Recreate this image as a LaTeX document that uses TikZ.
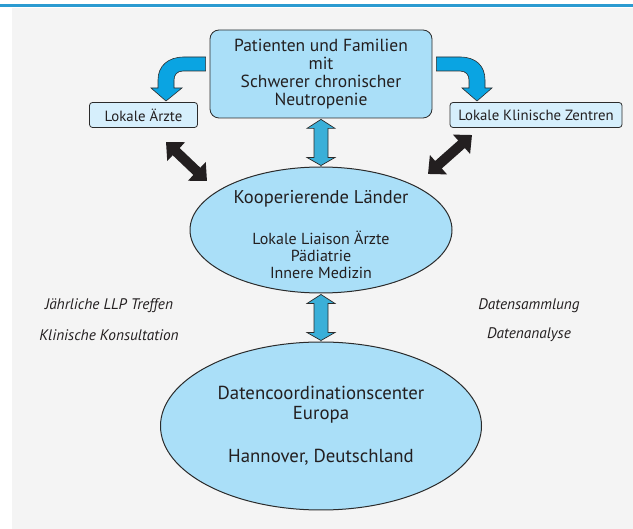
\documentclass[tikz,border=0pt]{standalone}
\usepackage{fontspec}
\setmainfont{PT Sans}
\usetikzlibrary{calc,arrows.meta,shapes.geometric}
\definecolor{bgray}{HTML}{F4F4F4}
\definecolor{topline}{HTML}{2B9BD1}
\definecolor{boxblue}{HTML}{AADFF8}
\definecolor{smallblue}{HTML}{D6EFFC}
\definecolor{curveblue}{HTML}{0AA4E2}
\definecolor{midblue}{HTML}{3AAFD8}
\definecolor{edge}{HTML}{2B2B2B}
\definecolor{txt}{HTML}{231F20}
\definecolor{blk}{HTML}{231F20}
\tikzset{
  mainbox/.style={draw=edge, line width=0.8pt, fill=boxblue, rounded corners=9pt, minimum width=222pt, minimum height=88pt, inner sep=0pt, align=center, text=txt, font=\fontsize{17.5}{18}\selectfont},
  smallbox/.style={draw=edge, line width=0.8pt, fill=smallblue, rounded corners=3pt, minimum height=25pt, inner sep=0pt, align=center, text=txt, font=\fontsize{14.8}{15}\selectfont},
  ell/.style={ellipse, draw=edge, line width=1pt, fill=boxblue, inner sep=0pt},
  lbl/.style={align=center, text=txt, inner sep=0pt},
  itl/.style={text=txt, inner sep=0pt, font=\fontsize{15.3}{16}\selectfont\itshape},
  curvearrow/.style={draw=edge, line width=0.6pt, fill=curveblue},
  varrow/.style={draw=edge, line width=0.7pt, fill=midblue},
  blackarrow/.style={draw=blk, line width=10pt, {Triangle[length=14pt,width=25pt]}-{Triangle[length=14pt,width=25pt]}, color=blk}
}
\begin{document}
\begin{tikzpicture}[x=1pt,y=-1pt]
\useasboundingbox (0,0) rectangle (633,529);
\fill[white] (0,0) rectangle (633,529);
\fill[bgray] (12,8) rectangle (633,529);
\fill[topline] (0,3.8) rectangle (633,6.6);

% main box
\node[mainbox] (top) at (321,74) {Patienten und Familien\\mit\\Schwerer chronischer\\Neutropenie};
\node[smallbox, minimum width=108pt] (aerzte) at (143.5,115) {Lokale Ärzte};
\node[smallbox, minimum width=172pt] (zentren) at (536,115) {Lokale Klinische Zentren};

% ellipses
\node[ell, minimum width=262pt, minimum height=126pt] (e1) at (321,230) {};
\node[lbl, font=\fontsize{18.5}{20}\selectfont] (e1t) at (321,199) {Kooperierende Länder};
\node[lbl, font=\fontsize{16}{17}\selectfont] (e1s) at (321,255) {Lokale Liaison Ärzte\\Pädiatrie\\Innere Medizin};

\node[ell, minimum width=321pt, minimum height=168pt] (e2) at (321,426) {};
\node[lbl, font=\fontsize{18.8}{20}\selectfont] (e2t) at (321,405) {Datencoordinationscenter\\Europa};
\node[lbl, font=\fontsize{18.8}{20}\selectfont] (e2s) at (321,457) {Hannover, Deutschland};

% italic side texts
\node[itl] (t1) at (109,306) {Jährliche LLP Treffen};
\node[itl] (t2) at (109,335) {Klinische Konsultation};
\node[itl] (t3) at (529,306) {Datensammlung};
\node[itl] (t4) at (529,335) {Datenanalyse};

% curved arrows
\draw[curvearrow] ($(top.west)+(-4,-17)$) -- (184,57) .. controls (168,57) and (158,66) .. (158,80) -- (158,88) -- (151,88) -- (166,101) -- (182,88) -- (174,88) -- (174,80) .. controls (174,75) and (177,71) .. (183,71) -- ($(top.west)+(-4,-3)$) -- cycle;
\draw[curvearrow] ($(top.east)+(4,-17)$) -- (460,57) .. controls (476,57) and (485,66) .. (485,80) -- (485,88) -- (492,88) -- (477,101) -- (462,88) -- (469,88) -- (469,80) .. controls (469,75) and (466,71) .. (460,71) -- ($(top.east)+(4,-3)$) -- cycle;

% vertical double arrows
\draw[varrow] ($(top.south)+(0,1)$) -- ++(14,9) -- ++(-7,0) -- ($(e1.north)+(7,-9)$) -- ++(7,0) -- ($(e1.north)+(0,-1)$) -- ++(-14,-8) -- ++(7,0) -- ($(top.south)+(-7,10)$) -- ++(-7,0) -- cycle;
\draw[varrow] ($(e1.south)+(0,1)$) -- ++(14,9) -- ++(-7,0) -- ($(e2.north)+(7,-9)$) -- ++(7,0) -- ($(e2.north)+(0,-1)$) -- ++(-14,-8) -- ++(7,0) -- ($(e1.south)+(-7,10)$) -- ++(-7,0) -- cycle;

% black double arrows
\coordinate (bl1) at (166,142);
\coordinate (bl2) at (207,181);
\coordinate (br1) at (472,135);
\coordinate (br2) at (428,174);
\draw[blackarrow] (bl1) -- (bl2);
\draw[blackarrow] (br1) -- (br2);
\end{tikzpicture}
\end{document}
